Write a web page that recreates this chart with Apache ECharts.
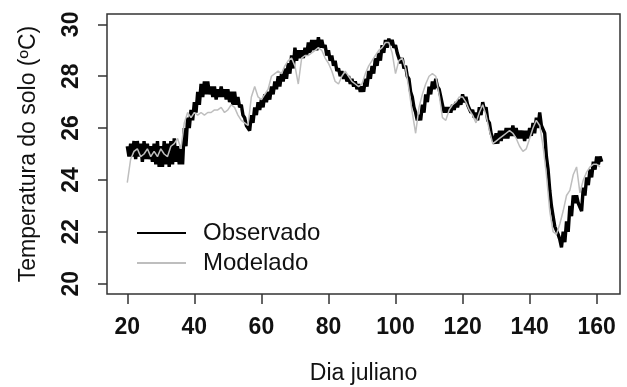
<!DOCTYPE html>
<html>
<head>
<meta charset="utf-8">
<script src="https://cdn.jsdelivr.net/npm/echarts@6/dist/echarts.min.js"></script>
<style>
html,body{margin:0;padding:0;background:#fff;}
#chart{width:627px;height:387px;}
</style>
</head>
<body>
<div id="chart"></div>
<script>
// Julian day of the first value; one value per day
const firstDay = 20;
// Observed soil temperature: daily upper and lower envelope (°C)
const obsHigh = [
25.3,25.4,25.5,25.5,25.4,25.5,25.4,25.3,25.4,25.5,
25.3,25.5,25.4,25.5,25.6,25.3,25.2,26.0,26.4,26.7,
27.0,27.4,27.7,27.8,27.8,27.6,27.6,27.5,27.6,27.5,
27.5,27.4,27.4,27.2,26.9,26.4,26.1,26.5,26.8,27.0,
27.1,27.3,27.4,27.6,27.8,28.0,28.1,28.3,28.5,28.8,
29.1,29.0,29.0,29.1,29.3,29.4,29.4,29.5,29.4,29.2,
29.0,28.8,28.6,28.3,28.2,28.1,28.0,27.9,27.8,27.7,
27.6,27.9,28.2,28.4,28.7,28.9,29.2,29.4,29.45,29.4,
29.2,28.9,28.7,28.4,27.9,27.2,26.6,26.5,26.9,27.3,
27.6,27.8,27.9,27.5,26.9,26.8,26.8,26.9,27.0,27.1,
27.3,27.2,26.9,26.7,26.6,26.8,27.0,26.8,26.2,25.8,
25.8,25.9,25.9,26.0,26.0,26.1,26.0,25.9,25.9,25.9,
26.0,26.2,26.4,26.6,26.1,24.9,23.6,22.6,22.2,21.7,
22.0,22.4,23.0,23.4,23.4,23.1,23.7,24.1,24.4,24.7,
24.9,24.9
];
const obsLow = [
24.9,24.9,24.8,24.9,24.7,24.8,24.8,24.7,24.6,24.5,
24.5,24.6,24.5,24.6,24.7,24.6,24.6,25.3,26.0,26.3,
26.6,26.9,27.2,27.3,27.3,27.2,27.1,27.2,27.2,27.1,
27.0,26.9,26.9,26.8,26.5,26.1,25.9,26.2,26.5,26.7,
26.8,27.0,27.1,27.3,27.5,27.6,27.8,27.9,28.1,28.3,
28.6,28.7,28.7,28.8,28.9,29.0,29.0,29.1,29.1,28.8,
28.6,28.4,28.2,28.0,27.9,27.8,27.7,27.6,27.5,27.4,
27.4,27.6,27.9,28.1,28.4,28.6,28.9,29.1,29.2,29.1,
28.9,28.5,28.3,28.0,27.4,26.8,26.3,26.3,26.6,27.0,
27.3,27.5,27.6,27.2,26.6,26.6,26.6,26.7,26.8,26.9,
27.0,26.9,26.6,26.4,26.3,26.5,26.7,26.3,25.8,25.4,
25.4,25.5,25.6,25.6,25.7,25.7,25.6,25.6,25.5,25.6,
25.7,25.8,26.0,26.1,25.8,24.4,23.0,22.2,21.9,21.4,
21.6,22.0,22.6,23.1,23.1,22.8,23.4,23.8,24.1,24.4,
24.6,24.7
];
// Modelled soil temperature (°C)
const modTemp = [
23.9,24.8,25.1,25.2,24.9,25.0,25.2,24.9,25.1,24.9,
25.2,25.0,24.9,25.3,25.4,25.6,25.2,26.2,26.6,26.4,
26.6,26.5,26.6,26.5,26.6,26.6,26.7,26.7,26.8,26.6,
26.7,26.9,26.8,26.5,26.3,26.2,26.1,27.2,27.6,27.2,
27.1,27.3,27.5,28.0,28.1,28.2,28.1,28.4,28.6,28.7,
28.4,27.7,28.7,28.8,28.8,28.9,29.0,29.1,29.0,28.7,
28.5,28.2,27.8,27.7,28.0,28.2,28.0,27.8,27.7,27.6,
27.7,28.1,28.4,28.6,28.8,29.0,29.1,29.3,29.3,28.9,
28.1,28.6,28.7,28.3,27.5,26.6,25.8,26.8,27.3,27.7,
28.0,28.1,28.0,27.3,26.4,26.3,26.7,26.9,27.0,27.2,
27.2,27.0,26.7,26.5,26.2,26.6,26.9,26.5,25.9,25.4,
25.5,25.6,25.7,25.8,25.9,25.8,25.6,25.3,25.1,25.2,
25.6,26.0,26.3,26.1,25.3,24.2,22.8,22.0,21.9,22.3,
22.8,23.4,23.6,24.2,24.5,23.5,24.0,24.3,24.5,24.6,
24.6,24.5
];
const xTicks = [20,40,60,80,100,120,140,160];
const yTicks = [20,22,24,26,28,30];
const seriesNames = ['Observado','Modelado'];

const obsData = [];
obsHigh.forEach((h, i) => {
  const d = firstDay + i;
  obsData.push([d, h]);
  obsData.push([d + 0.5, obsLow[i]]);
});
const modData = modTemp.map((v, i) => [firstDay + i, v]);

const FONT = "'Liberation Sans', Arial, sans-serif";
const chart = echarts.init(document.getElementById('chart'), null, {renderer:'canvas'});
chart.setOption({
  animation: false,
  backgroundColor: '#fff',
  grid: {left:107, top:14, width:513, height:280, show:true, outerBoundsMode:'none', containLabel:false,
         borderColor:'#333', borderWidth:1.5, backgroundColor:'transparent'},
  legend: {
    orient:'vertical', left:132, top:216, itemWidth:49, itemHeight:2, itemGap:6, icon:'rect',
    data: seriesNames,
    textStyle:{fontFamily:FONT, fontSize:24, color:'#111', lineHeight:24, padding:[0,0,0,12]}
  },
  xAxis: {
    type:'value', min:13.95, max:166.95,
    name:'Dia juliano', nameLocation:'middle', nameGap:68,
    nameTextStyle:{fontFamily:FONT, fontSize:23, color:'#111'},
    axisLine:{show:false},
    axisTick:{show:true, length:10, customValues:xTicks, lineStyle:{color:'#333', width:1.5}},
    axisLabel:{customValues:xTicks, fontFamily:FONT, fontSize:23, fontWeight:'bold', color:'#111', margin:22},
    splitLine:{show:false}
  },
  yAxis: {
    type:'value', min:19.6, max:30.4,
    name:'Temperatura do solo (ºC)', nameLocation:'middle', nameGap:67,
    nameTextStyle:{fontFamily:FONT, fontSize:23, color:'#111'},
    axisLine:{show:false},
    axisTick:{show:true, length:9, customValues:yTicks, lineStyle:{color:'#333', width:1.5}},
    axisLabel:{customValues:yTicks, rotate:90, fontFamily:FONT, fontSize:23, fontWeight:'bold', color:'#111', margin:24},
    splitLine:{show:false}
  },
  series: [
    {name:seriesNames[0], type:'line', data:obsData, symbol:'none', color:'#000',
     lineStyle:{color:'#000', width:3.4}, z:2},
    {name:seriesNames[1], type:'line', data:modData, symbol:'none', color:'#bebebe',
     lineStyle:{color:'#bebebe', width:1.5}, z:3}
  ]
});
</script>
</body>
</html>
